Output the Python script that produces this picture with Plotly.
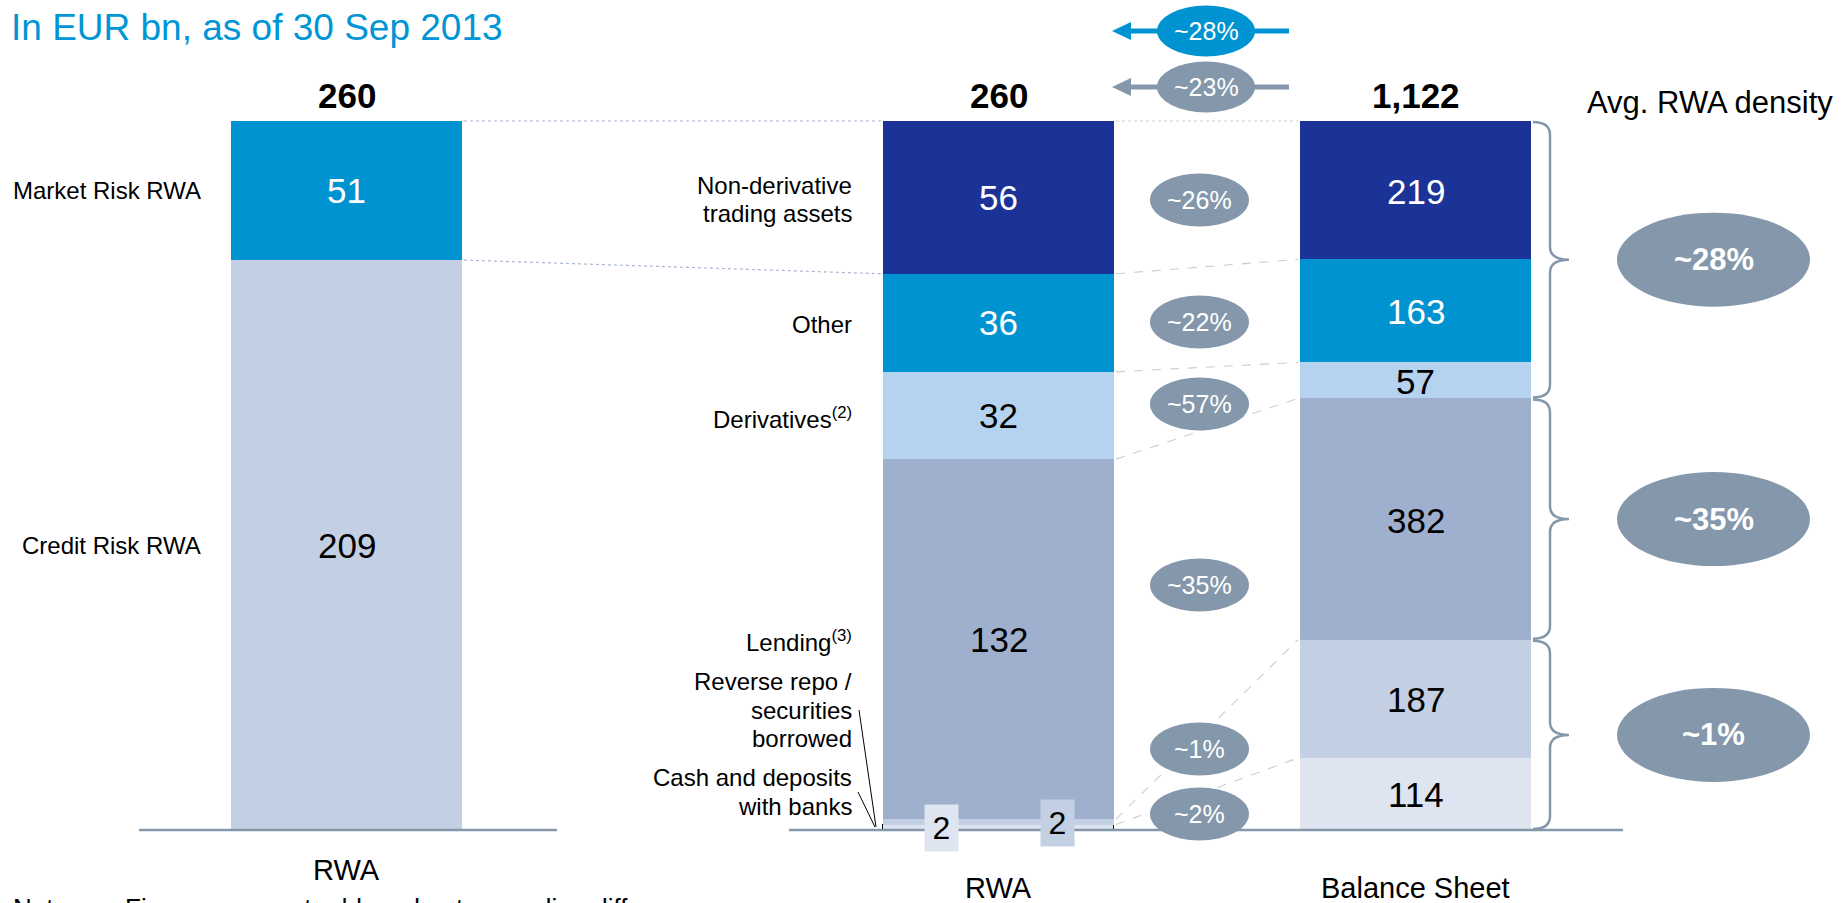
import plotly.graph_objects as go

# ---------------- data ----------------
TITLE = "In EUR bn, as of 30 Sep 2013"
COLUMN_LABELS = ["RWA", "RWA", "Balance Sheet"]
TOTAL_LABELS = ["260", "260", "1,122"]

RWA_SPLIT_LABELS = ["Market Risk RWA", "Credit Risk RWA"]
RWA_SPLIT_VALUES = [51, 209]

ASSET_LABELS = ["Non-derivative<br>trading assets", "Other", "Derivatives<sup>(2)</sup>",
                "Lending<sup>(3)</sup>", "Reverse repo /<br>securities<br>borrowed",
                "Cash and deposits<br>with banks"]
ASSET_RWA = [56, 36, 32, 132, 2, 2]
ASSET_BALANCE = [219, 163, 57, 382, 187, 114]
ASSET_DENSITY = ["~26%", "~22%", "~57%", "~35%", "~1%", "~2%"]

GROUP_DENSITY = ["~28%", "~35%", "~1%"]
GROUP_MEMBERS = [3, 1, 2]
TOP_DENSITY = ["~28%", "~23%"]
DENSITY_HEADER = "Avg. RWA density"
NOTE_LABEL = "Note:"
NOTE_TEXT = "Figures may not add up due to rounding differences"

# ---------------- layout / style ----------------
W, H = 1842, 903
FONT = "Liberation Sans, Arial, Helvetica, sans-serif"
BASE, TOP = 830.0, 121.0
BAR_W = 231
BAR_X = [346.5, 998.5, 1415.5]
SPLIT_COLORS = ["#0093D1", "#C3CFE2"]
SPLIT_TEXT = ["white", "black"]
ASSET_COLORS = ["#1B3297", "#0093D1", "#B5D2EF", "#9EB0CE", "#C3CFE2", "#DEE5F0"]
ASSET_TEXT = ["white", "white", "black", "black", "black", "black"]
GREY = "#8497AB"
BLUE = "#0093D1"
TITLE_COLOR = "#0096D6"
SMALL_BOX_POS = {4: (1057, 823), 5: (941, 828)}
SIDE_LABEL_Y = {4: 710, 5: 792}
MID_ELL_Y = [200, 322, 404, 585, 749, 814]
MID_ELL_X = (1150, 1249)
MID_ELL_H = 53
TOP_ARROW_Y = [31, 87]
TOP_ARROW_COL = [BLUE, GREY]
RIGHT_ELL_X = (1617, 1810)
RIGHT_ELL_H = 94

rwa_total = sum(RWA_SPLIT_VALUES)
bs_total = sum(ASSET_BALANCE)
px_per = (BASE - TOP) / rwa_total
k2 = bs_total / rwa_total
y_range = [-(H - BASE) / px_per, BASE / px_per]
y2_range = [v * k2 for v in y_range]


def py_rwa(v):
    return BASE - v * px_per


def py_bs(v):
    return BASE - v * px_per / k2


def tops(values):
    tot = sum(values)
    out, acc = [], tot
    for v in values:
        out.append(acc)
        acc -= v
    return out


fig = go.Figure()

# left bar (bottom first)
for lab, val, col in reversed(list(zip(RWA_SPLIT_LABELS, RWA_SPLIT_VALUES, SPLIT_COLORS))):
    fig.add_bar(x=[BAR_X[0]], y=[val], width=BAR_W, name=lab, yaxis="y",
                marker=dict(color=col, line=dict(width=0)), hoverinfo="skip")
# middle bar
for i in reversed(range(len(ASSET_RWA))):
    line = dict(width=0)
    if i == len(ASSET_RWA) - 1:
        line = dict(width=1.2, color="black")
    fig.add_bar(x=[BAR_X[1]], y=[ASSET_RWA[i]], width=BAR_W, name=ASSET_LABELS[i], yaxis="y",
                marker=dict(color=ASSET_COLORS[i], line=line), hoverinfo="skip")
# right bar
for i in reversed(range(len(ASSET_BALANCE))):
    fig.add_bar(x=[BAR_X[2]], y=[ASSET_BALANCE[i]], width=BAR_W, name=ASSET_LABELS[i], yaxis="y2",
                marker=dict(color=ASSET_COLORS[i], line=dict(width=0)), hoverinfo="skip")
fig.add_scatter(x=[0], y=[0], yaxis="y3", mode="markers", marker=dict(opacity=0), hoverinfo="skip")


def text(x, y, s, size, color="black", xanchor="center", bold=False, yref="y3", **kw):
    fig.add_annotation(x=x, y=y, xref="x", yref=yref, text=f"<b>{s}</b>" if bold else s,
                       showarrow=False, xanchor=xanchor, yanchor="middle",
                       font=dict(family=FONT, size=size, color=color), **kw)


shapes = []


def ell(x0, x1, yc, h, col):
    shapes.append(dict(type="circle", xref="x", yref="y3", x0=x0, x1=x1, y0=yc - h / 2, y1=yc + h / 2,
                       fillcolor=col, line=dict(width=0), layer="above"))


def seg(x0, y0, x1, y1, col, w, dash="solid"):
    shapes.append(dict(type="line", xref="x", yref="y3", x0=x0, y0=y0, x1=x1, y1=y1,
                       line=dict(color=col, width=w, dash=dash), layer="above"))


L0, L1 = BAR_X[0] - BAR_W / 2, BAR_X[0] + BAR_W / 2
M0, M1 = BAR_X[1] - BAR_W / 2, BAR_X[1] + BAR_W / 2
R0, R1 = BAR_X[2] - BAR_W / 2, BAR_X[2] + BAR_W / 2

# connectors left -> middle
lt = tops(RWA_SPLIT_VALUES)
mt = tops(ASSET_RWA)
rt = tops(ASSET_BALANCE)
seg(L1 + 2, py_rwa(lt[0]), M0 - 2, py_rwa(mt[0]), "#A9B6CC", 1.2, "dot")
seg(L1 + 2, py_rwa(lt[1]), M0 - 2, py_rwa(mt[1]), "#A9B6CC", 1.2, "dot")
# connectors middle -> right
for i in range(len(ASSET_RWA)):
    seg(M1 + 2, py_rwa(mt[i]), R0 - 2, py_bs(rt[i]), "#C9CDD5", 1.1, "dot" if i == 0 else "dash")

# baselines
seg(139, BASE, 557, BASE, GREY, 2.5)
seg(789, BASE, 1623, BASE, GREY, 2.5)

# leader lines
seg(859, 710, 876, 827, "black", 1)
seg(858, 792, 875, 827, "black", 1)

# title
text(9, 27, TITLE, 37, TITLE_COLOR, xanchor="left")

# totals
for x, lab in zip(BAR_X, TOTAL_LABELS):
    text(x, TOP - 26, lab, 35, bold=True)

# left segment labels
for i, (lab, val) in enumerate(zip(RWA_SPLIT_LABELS, RWA_SPLIT_VALUES)):
    c = py_rwa(lt[i] - val / 2)
    text(BAR_X[0], c, str(val), 35, SPLIT_TEXT[i])
    text(203, c, lab, 24, xanchor="right")

# middle + right labels
for i in range(len(ASSET_RWA)):
    if i in SMALL_BOX_POS:
        bx, by = SMALL_BOX_POS[i]
        text(bx, by, str(ASSET_RWA[i]), 32, "black", bgcolor=ASSET_COLORS[i], width=31, height=44)
        ly = SIDE_LABEL_Y[i]
    else:
        text(BAR_X[1], py_rwa(mt[i] - ASSET_RWA[i] / 2), str(ASSET_RWA[i]), 35, ASSET_TEXT[i])
        ly = py_rwa(mt[i] - ASSET_RWA[i] / 2) + 2
    lines = ASSET_LABELS[i].split("<br>")
    for j, ln in enumerate(lines):
        text(854, ly + (j - (len(lines) - 1) / 2) * 28.5, ln, 24, xanchor="right")
    text(BAR_X[2], py_bs(rt[i] - ASSET_BALANCE[i] / 2) + 1, str(ASSET_BALANCE[i]), 35, ASSET_TEXT[i])
    ell(MID_ELL_X[0], MID_ELL_X[1], MID_ELL_Y[i], MID_ELL_H, GREY)
    text((MID_ELL_X[0] + MID_ELL_X[1]) / 2, MID_ELL_Y[i], ASSET_DENSITY[i], 25, "white")

# top arrows
for yv, col, lab in zip(TOP_ARROW_Y, TOP_ARROW_COL, TOP_DENSITY):
    seg(1125, yv, 1289, yv, col, 5)
    shapes.append(dict(type="path", xref="x", yref="y3",
                       path=f"M 1112,{yv} L 1131,{yv - 9} L 1131,{yv + 9} Z",
                       fillcolor=col, line=dict(width=0), layer="above"))
    ell(1157, 1255, yv, 51, col)
    text(1206, yv, lab, 25, "white")

# braces + group ellipses
start = 0
for g, n in enumerate(GROUP_MEMBERS):
    top_v = rt[start]
    bot_v = rt[start] - sum(ASSET_BALANCE[start:start + n])
    yt, yb = py_bs(top_v) + 1, py_bs(bot_v) - 1
    ym = (yt + yb) / 2
    x0, xs, xt, r = 1533, 1550, 1569, 13
    path = (f"M {x0},{yt} Q {xs},{yt} {xs},{yt + r} L {xs},{ym - r} Q {xs},{ym} {xt},{ym} "
            f"Q {xs},{ym} {xs},{ym + r} L {xs},{yb - r} Q {xs},{yb} {x0},{yb}")
    shapes.append(dict(type="path", xref="x", yref="y3", path=path,
                       line=dict(color=GREY, width=2.5), layer="above"))
    ell(RIGHT_ELL_X[0], RIGHT_ELL_X[1], ym, RIGHT_ELL_H, GREY)
    text((RIGHT_ELL_X[0] + RIGHT_ELL_X[1]) / 2, ym, GROUP_DENSITY[g], 31, "white", bold=True)
    start += n

text(1835, 102, DENSITY_HEADER, 31, xanchor="right")

# column labels
text(BAR_X[0], 870, COLUMN_LABELS[0], 29)
text(BAR_X[1], 888, COLUMN_LABELS[1], 29)
text(BAR_X[2], 888, COLUMN_LABELS[2], 29)

# note (cut off at the bottom edge, as in the reference) - paper coords so it is not hidden
NOTE_Y = 1 - 908 / H
for nx, ns in ((11, NOTE_LABEL), (123, NOTE_TEXT)):
    fig.add_annotation(x=nx / W, y=NOTE_Y, xref="paper", yref="paper", text=ns, showarrow=False,
                       xanchor="left", yanchor="middle", font=dict(family=FONT, size=26, color="black"))

fig.update_layout(
    width=W, height=H, margin=dict(l=0, r=0, t=0, b=0),
    paper_bgcolor="white", plot_bgcolor="white",
    barmode="stack", bargap=0, showlegend=False, shapes=shapes,
    xaxis=dict(range=[0, W], visible=False, fixedrange=True),
    yaxis=dict(range=y_range, visible=False, fixedrange=True),
    yaxis2=dict(range=y2_range, overlaying="y", visible=False, fixedrange=True),
    yaxis3=dict(range=[H, 0], overlaying="y", visible=False, fixedrange=True),
)

fig.write_html("out.html", config={"displayModeBar": False},
               post_script="document.body.style.margin='0';document.body.style.overflow='hidden';")
